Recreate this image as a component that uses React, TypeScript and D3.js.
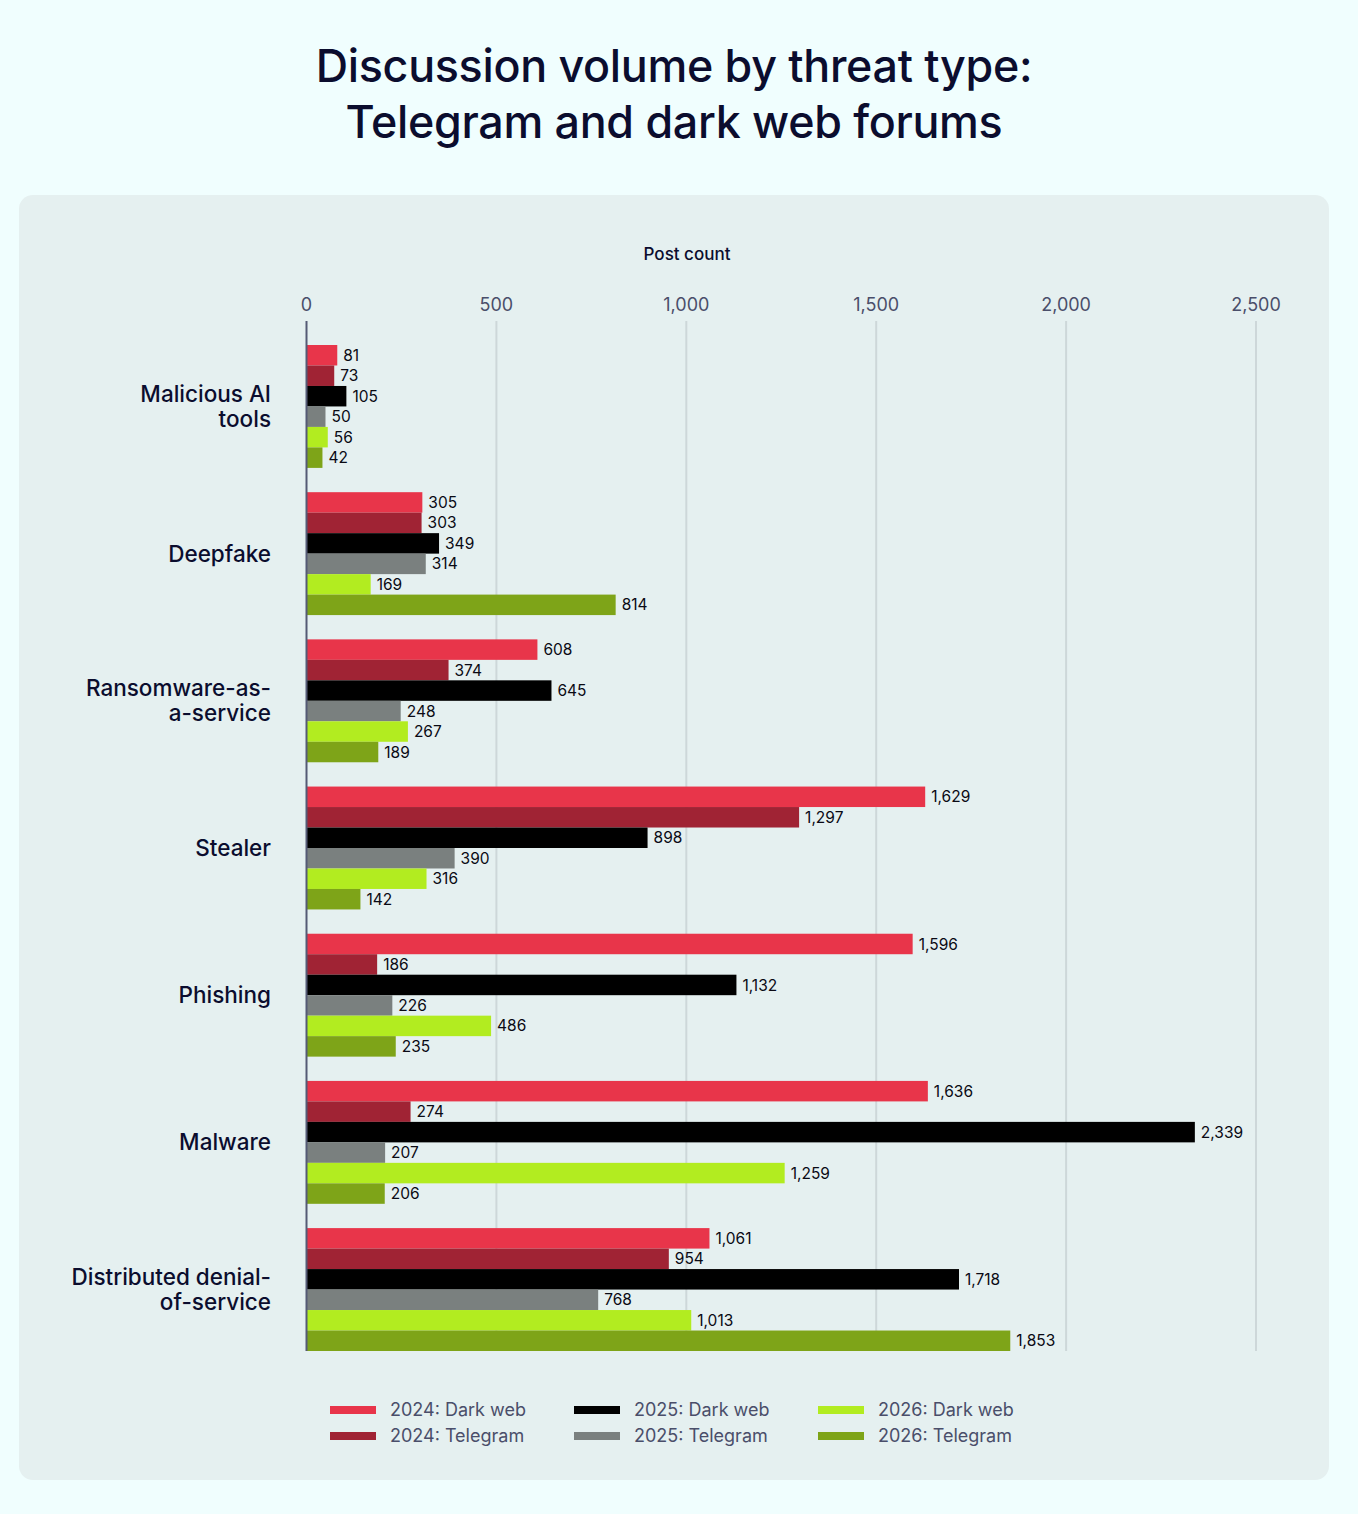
import React from "react";
import * as d3 from "d3";

const categories: string[][] = [
  ["Malicious AI", "tools"],
  ["Deepfake"],
  ["Ransomware-as-", "a-service"],
  ["Stealer"],
  ["Phishing"],
  ["Malware"],
  ["Distributed denial-", "of-service"],
];

const seriesNames = [
  "2024: Dark web",
  "2024: Telegram",
  "2025: Dark web",
  "2025: Telegram",
  "2026: Dark web",
  "2026: Telegram",
];

const seriesColors = ["#e8354a", "#a02334", "#000000", "#7a807f", "#b2ec20", "#7ea418"];

const darkWeb2024 = [81, 305, 608, 1629, 1596, 1636, 1061];
const telegram2024 = [73, 303, 374, 1297, 186, 274, 954];
const darkWeb2025 = [105, 349, 645, 898, 1132, 2339, 1718];
const telegram2025 = [50, 314, 248, 390, 226, 207, 768];
const darkWeb2026 = [56, 169, 267, 316, 486, 1259, 1013];
const telegram2026 = [42, 814, 189, 142, 235, 206, 1853];

const seriesValues = [darkWeb2024, telegram2024, darkWeb2025, telegram2025, darkWeb2026, telegram2026];

const xTicks = [0, 500, 1000, 1500, 2000, 2500];

const W = 1358;
const H = 1514;
const FONT = "Inter, 'Noto Sans', sans-serif";

export default function App() {
  const x = d3.scaleLinear().domain([0, 2500]).range([306.5, 1256]);
  const catKeys = categories.map((c) => c.join(" "));
  const y0 = d3.scaleBand<string>().domain(catKeys).range([345, 1351]).paddingInner(0.165).paddingOuter(0);
  const y1 = d3
    .scaleBand<string>()
    .domain(seriesNames)
    .range([0, y0.bandwidth()])
    .padding(0);
  const fmt = d3.format(",");

  const legendCols = [330, 574, 818];
  const legendRows = [1410, 1436];

  return (
    <svg
      width={W}
      height={H}
      viewBox={`0 0 ${W} ${H}`}
      style={{ position: "absolute", left: 0, top: 0, display: "block" }}
      fontFamily={FONT}
    >
      <rect x={0} y={0} width={W} height={H} fill="#f0fefe" />
      <text x={674} y={82} textAnchor="middle" fontSize={44.8} fontWeight={500} fill="#0b0d2e" letterSpacing={-0.3}>
        Discussion volume by threat type:
      </text>
      <text x={674} y={138} textAnchor="middle" fontSize={44.8} fontWeight={500} fill="#0b0d2e" letterSpacing={-0.3}>
        Telegram and dark web forums
      </text>
      <rect x={19} y={195} width={1310} height={1285} rx={14} ry={14} fill="#e5f0f0" />

      <text x={687} y={260} textAnchor="middle" fontSize={17} fontWeight={500} fill="#0b0d2e">
        Post count
      </text>

      {xTicks.map((t) => (
        <g key={t}>
          {t !== 0 && (
            <line x1={x(t)} x2={x(t)} y1={321} y2={1351} stroke="#cdd7d9" strokeWidth={2} />
          )}
          <text x={x(t)} y={311} textAnchor="middle" fontSize={18} fill="#4a4e6a">
            {fmt(t)}
          </text>
        </g>
      ))}

      {catKeys.map((key, ci) => (
        <g key={key} transform={`translate(0,${y0(key)})`}>
          {seriesValues.map((vals, si) => {
            const v = vals[ci];
            const yy = y1(seriesNames[si]) as number;
            const h = y1.bandwidth();
            return (
              <g key={si}>
                <rect x={x(0)} y={yy} width={x(v) - x(0)} height={h} fill={seriesColors[si]} />
                <text
                  x={x(v) + 6}
                  y={yy + h / 2}
                  dy="0.36em"
                  fontSize={15.5}
                  fill="#0a0a14"
                >
                  {fmt(v)}
                </text>
              </g>
            );
          })}
        </g>
      ))}

      {categories.map((lines, ci) => {
        const key = catKeys[ci];
        const cy = (y0(key) as number) + y0.bandwidth() / 2;
        const lh = 25;
        const startY = cy - ((lines.length - 1) * lh) / 2;
        return (
          <text key={key} x={271} textAnchor="end" fontSize={22.5} fontWeight={450} fill="#0b0d2e">
            {lines.map((ln, li) => (
              <tspan key={li} x={271} y={startY + li * lh} dy="0.36em">
                {ln}
              </tspan>
            ))}
          </text>
        );
      })}

      <line x1={306.5} x2={306.5} y1={321} y2={1351} stroke="#555a75" strokeWidth={2} />

      {seriesNames.map((name, si) => {
        const col = Math.floor(si / 2);
        const row = si % 2;
        const lx = legendCols[col];
        const ly = legendRows[row];
        return (
          <g key={name}>
            <rect x={lx} y={ly - 4} width={46} height={8} fill={seriesColors[si]} />
            <text x={lx + 60} y={ly} dy="0.36em" fontSize={18} fill="#4a4e6a">
              {name}
            </text>
          </g>
        );
      })}
    </svg>
  );
}
